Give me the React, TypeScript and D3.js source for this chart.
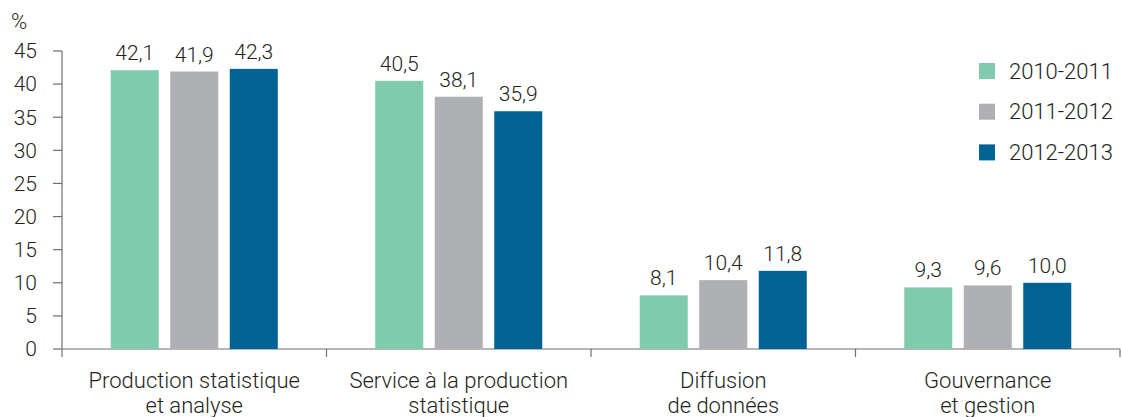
import React from "react";
import * as d3 from "d3";

const categories = [
  ["Production statistique", "et analyse"],
  ["Service à la production", "statistique"],
  ["Diffusion", "de données"],
  ["Gouvernance", "et gestion"],
];
const seriesNames = ["2010-2011", "2011-2012", "2012-2013"];
const values2010 = [42.1, 40.5, 8.1, 9.3];
const values2011 = [41.9, 38.1, 10.4, 9.6];
const values2012 = [42.3, 35.9, 11.8, 10.0];
const yTicks = [0, 5, 10, 15, 20, 25, 30, 35, 40, 45];
const colors = ["#80cbae", "#afb0b3", "#006394"];

const W = 1122;
const H = 417;
const FONT = "Roboto, 'Helvetica Neue', Arial, sans-serif";

export default function App() {
  const series = [values2010, values2011, values2012];
  const catIdx = categories.map((_, i) => i);
  const x0 = d3.scaleBand<number>().domain(catIdx).range([62, 1120]);
  const x1 = d3
    .scaleBand<number>()
    .domain([0, 1, 2])
    .range([0, x0.bandwidth()])
    .paddingInner(0.193)
    .paddingOuter(0.819);
  const y = d3.scaleLinear().domain([0, 45]).range([349, 51]);
  const fmt = (v: number) => v.toFixed(1).replace(".", ",");
  const axisColor = "#6d6e71";
  const textColor = "#231f20";

  const bounds = [...catIdx.map((i) => x0(i)!), 1120];

  return (
    <svg
      width={W}
      height={H}
      style={{ position: "absolute", left: 0, top: 0, background: "#fff" }}
      fontFamily={FONT}
    >
      <text x={11} y={29} fontSize={22} fontWeight={300} fill={textColor}>
        %
      </text>
      {/* y axis */}
      <line x1={62} x2={62} y1={y(45)} y2={y(0)} stroke={axisColor} strokeWidth={1.2} />
      {yTicks.map((t) => (
        <g key={t}>
          <line x1={53} x2={62} y1={y(t)} y2={y(t)} stroke={axisColor} strokeWidth={1.2} />
          <text
            x={37}
            y={y(t)}
            dy="0.35em"
            textAnchor="end"
            fontSize={21}
            fontWeight={300}
            fill={textColor}
          >
            {t}
          </text>
        </g>
      ))}
      {/* x axis */}
      <line x1={62} x2={1120} y1={y(0)} y2={y(0)} stroke={axisColor} strokeWidth={1.2} />
      {bounds.map((b, i) => (
        <line key={i} x1={b} x2={b} y1={y(0)} y2={y(0) + 8} stroke={axisColor} strokeWidth={1.2} />
      ))}
      {/* bars */}
      {catIdx.map((ci) => (
        <g key={ci}>
          {series.map((s, si) => {
            const bx = x0(ci)! + x1(si)!;
            const v = s[ci];
            const cx = bx + x1.bandwidth() / 2;
            return (
              <g key={si}>
                <rect
                  x={bx}
                  y={y(v)}
                  width={x1.bandwidth()}
                  height={y(0) - y(v)}
                  fill={colors[si]}
                />
                <text
                  x={cx}
                  y={y(v) - 10}
                  textAnchor="middle"
                  fontSize={21}
                  fontWeight={300}
                  fill={textColor}
                >
                  {fmt(v)}
                </text>
              </g>
            );
          })}
          {categories[ci].map((line, li) => (
            <text
              key={li}
              x={x0(ci)! + x0.bandwidth() / 2}
              y={388 + li * 25}
              textAnchor="middle"
              fontSize={22}
              fontWeight={300}
              fill={textColor}
            >
              {line}
            </text>
          ))}
        </g>
      ))}
      {/* legend */}
      {seriesNames.map((n, i) => (
        <g key={n} transform={`translate(979,${63 + i * 40.7})`}>
          <rect width={16} height={16} fill={colors[i]} />
          <text x={30} y={8} dy="0.35em" fontSize={22} fontWeight={300} fill={textColor}>
            {n}
          </text>
        </g>
      ))}
    </svg>
  );
}
